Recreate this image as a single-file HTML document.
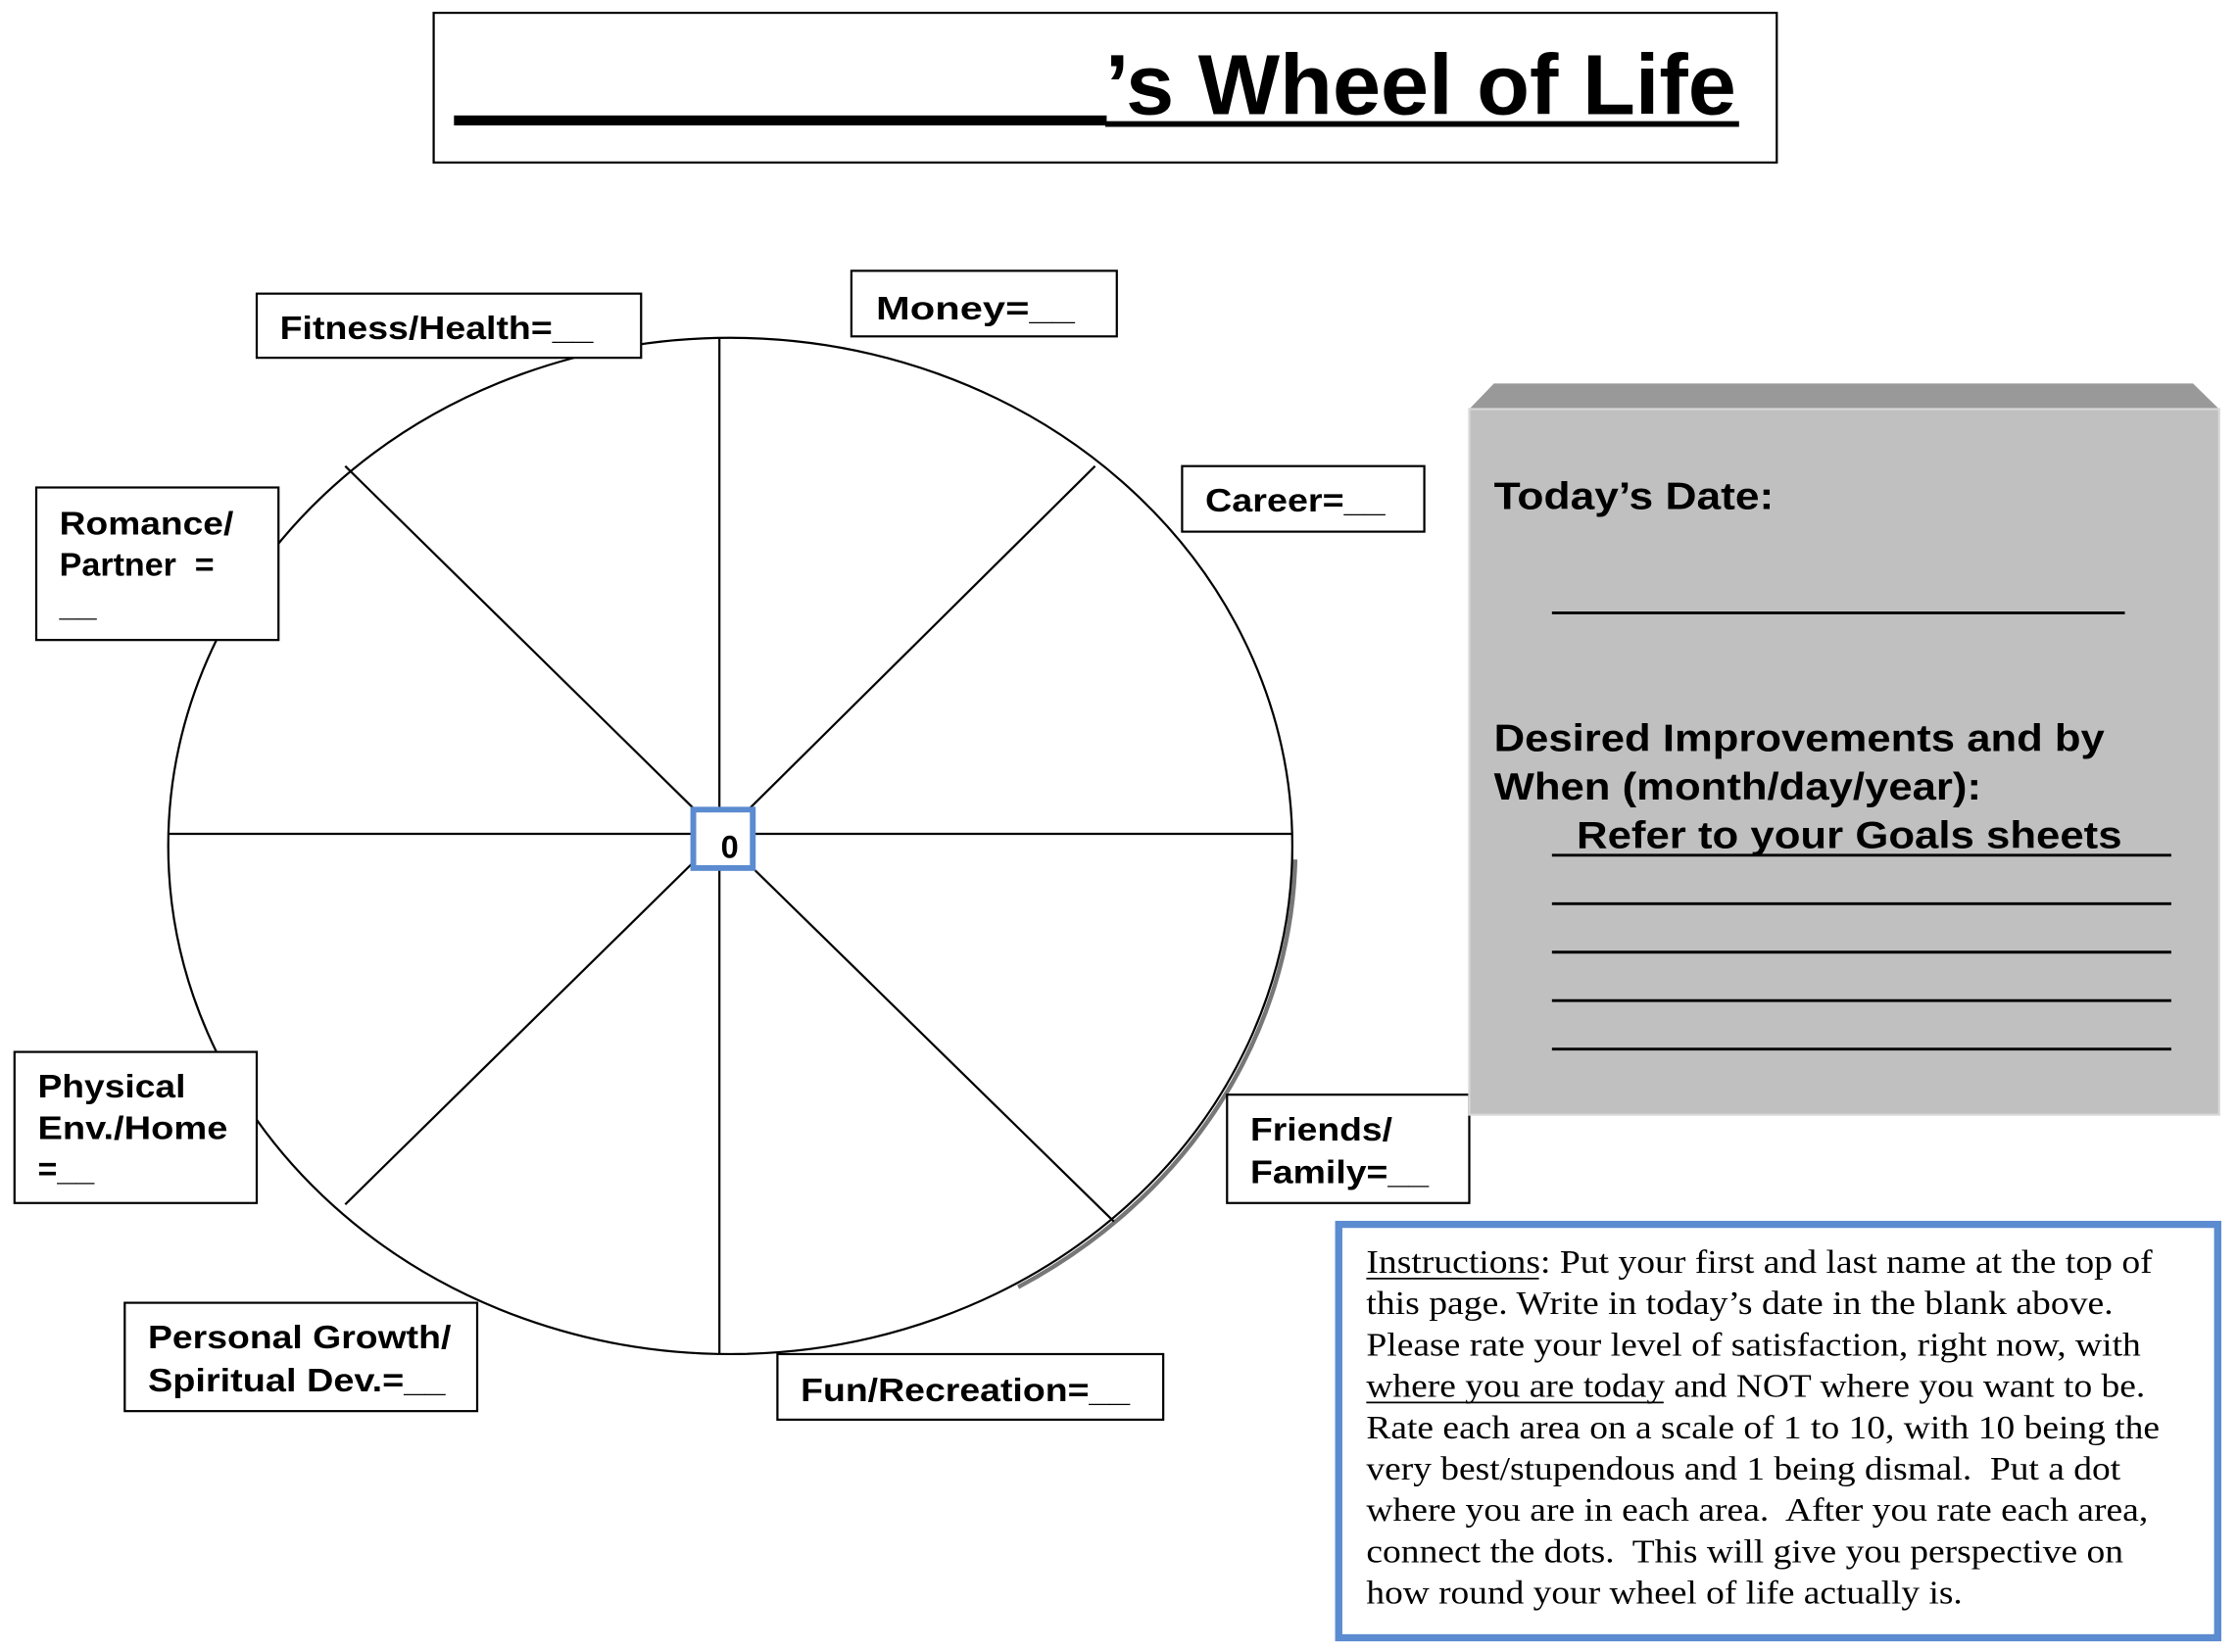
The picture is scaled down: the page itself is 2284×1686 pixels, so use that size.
<!DOCTYPE html>
<html><head><meta charset="utf-8"><style>
html,body{margin:0;padding:0;background:#fff;}
svg{display:block;}
.l{font-family:"Liberation Sans",Arial,sans-serif;font-weight:bold;font-size:23px;fill:#000;}
.g{font-family:"Liberation Sans",Arial,sans-serif;font-weight:bold;font-size:27px;fill:#000;}
.t{font-family:"Liberation Serif","Times New Roman",serif;font-size:23px;fill:#000;}
</style></head><body>
<svg width="2284" height="1686" viewBox="0 0 1543 1159" preserveAspectRatio="none" xmlns="http://www.w3.org/2000/svg">
<rect x="0" y="0" width="1543" height="1159" fill="#fff"/>
<!-- title -->
<rect x="299" y="9" width="926" height="105" fill="#fff" stroke="#000" stroke-width="1.5"/>
<rect x="313" y="81" width="450" height="7" fill="#000"/>
<rect x="762" y="85" width="437" height="4" fill="#000"/>
<text x="762" y="80" class="l" style="font-size:60px" textLength="435" lengthAdjust="spacingAndGlyphs">’s Wheel of Life</text>
<!-- wheel -->
<path d="M 891 600 A 387.5 356.5 0 0 1 700 900" fill="none" stroke="#777" stroke-width="3" transform="translate(2,3)"/>
<ellipse cx="503.5" cy="593.5" rx="387.5" ry="356.5" fill="#fff" stroke="#000" stroke-width="1.5"/>
<g stroke="#000" stroke-width="1.5">
<line x1="496" y1="237" x2="496" y2="568"/>
<line x1="496" y1="609" x2="496" y2="950"/>
<line x1="116" y1="585" x2="478" y2="585"/>
<line x1="519" y1="585" x2="891" y2="585"/>
<line x1="238" y1="327" x2="478" y2="567"/>
<line x1="755" y1="327" x2="517" y2="567"/>
<line x1="238" y1="845" x2="478" y2="605"/>
<line x1="768" y1="857" x2="520" y2="610"/>
</g>
<rect x="478" y="568" width="41" height="41" fill="#fff" stroke="#5b8bd0" stroke-width="4"/>
<text x="497" y="602" class="l" style="font-size:22px">0</text>
<!-- labels -->
<g fill="#fff" stroke="#000" stroke-width="1.5">
<rect x="177" y="206" width="265" height="45"/>
<rect x="587" y="190" width="183" height="46"/>
<rect x="815" y="327" width="167" height="46"/>
<rect x="25" y="342" width="167" height="107"/>
<rect x="10" y="738" width="167" height="106"/>
<rect x="86" y="914" width="243" height="76"/>
<rect x="536" y="950" width="266" height="46"/>
<rect x="846" y="768" width="167" height="76"/>
</g>
<text x="193" y="238" class="l" textLength="216" lengthAdjust="spacingAndGlyphs">Fitness/Health=__</text>
<text x="604" y="224" class="l" textLength="137" lengthAdjust="spacingAndGlyphs">Money=__</text>
<text x="831" y="359" class="l" textLength="124" lengthAdjust="spacingAndGlyphs">Career=__</text>
<text x="41" y="375" class="l" textLength="120" lengthAdjust="spacingAndGlyphs">Romance/</text>
<text x="41" y="404" class="l" xml:space="preserve">Partner  =</text>
<text x="41" y="432" class="l">__</text>
<text x="26" y="770" class="l" textLength="102" lengthAdjust="spacingAndGlyphs">Physical</text>
<text x="26" y="799" class="l" textLength="131" lengthAdjust="spacingAndGlyphs">Env./Home</text>
<text x="26" y="828" class="l">=__</text>
<text x="102" y="946" class="l" textLength="209" lengthAdjust="spacingAndGlyphs">Personal Growth/</text>
<text x="102" y="976" class="l" textLength="205" lengthAdjust="spacingAndGlyphs">Spiritual Dev.=__</text>
<text x="552" y="983" class="l" textLength="227" lengthAdjust="spacingAndGlyphs">Fun/Recreation=__</text>
<text x="862" y="800" class="l" textLength="98" lengthAdjust="spacingAndGlyphs">Friends/</text>
<text x="862" y="830" class="l" textLength="123" lengthAdjust="spacingAndGlyphs">Family=__</text>
<!-- grey panel -->
<polygon points="1013,287 1030,269 1512,269 1530,287" fill="#999"/>
<rect x="1013" y="287" width="517" height="495" fill="#c0c0c0" stroke="#d8d8d8" stroke-width="1.5"/>
<text x="1030" y="357" class="g" textLength="193" lengthAdjust="spacingAndGlyphs">Today’s Date:</text>
<line x1="1070" y1="430" x2="1465" y2="430" stroke="#000" stroke-width="2"/>
<text x="1030" y="527" class="g" textLength="421" lengthAdjust="spacingAndGlyphs">Desired Improvements and by</text>
<text x="1030" y="561" class="g" textLength="336" lengthAdjust="spacingAndGlyphs">When (month/day/year):</text>
<text x="1087" y="595" class="g" textLength="376" lengthAdjust="spacingAndGlyphs">Refer to your Goals sheets</text>
<g stroke="#000" stroke-width="2">
<line x1="1070" y1="600" x2="1497" y2="600"/>
<line x1="1070" y1="634" x2="1497" y2="634"/>
<line x1="1070" y1="668" x2="1497" y2="668"/>
<line x1="1070" y1="702" x2="1497" y2="702"/>
<line x1="1070" y1="736" x2="1497" y2="736"/>
</g>
<!-- instructions -->
<rect x="923" y="859" width="606" height="290" fill="#fff" stroke="#5b8bd0" stroke-width="5"/>
<g class="t">
<text x="942" y="893" textLength="542" lengthAdjust="spacingAndGlyphs">Instructions: Put your first and last name at the top of</text>
<text x="942" y="922" textLength="515" lengthAdjust="spacingAndGlyphs">this page. Write in today’s date in the blank above.</text>
<text x="942" y="951" textLength="534" lengthAdjust="spacingAndGlyphs">Please rate your level of satisfaction, right now, with</text>
<text x="942" y="980" textLength="537" lengthAdjust="spacingAndGlyphs">where you are today and NOT where you want to be.</text>
<text x="942" y="1009" textLength="547" lengthAdjust="spacingAndGlyphs">Rate each area on a scale of 1 to 10, with 10 being the</text>
<text x="942" y="1038" textLength="520" lengthAdjust="spacingAndGlyphs" xml:space="preserve">very best/stupendous and 1 being dismal.  Put a dot</text>
<text x="942" y="1067" textLength="539" lengthAdjust="spacingAndGlyphs" xml:space="preserve">where you are in each area.  After you rate each area,</text>
<text x="942" y="1096" textLength="522" lengthAdjust="spacingAndGlyphs" xml:space="preserve">connect the dots.  This will give you perspective on</text>
<text x="942" y="1125" textLength="411" lengthAdjust="spacingAndGlyphs">how round your wheel of life actually is.</text>
</g>
<line x1="942" y1="897" x2="1061" y2="897" stroke="#000" stroke-width="1.2"/>
<line x1="942" y1="984" x2="1147" y2="984" stroke="#000" stroke-width="1.2"/>
</svg>
</body></html>
